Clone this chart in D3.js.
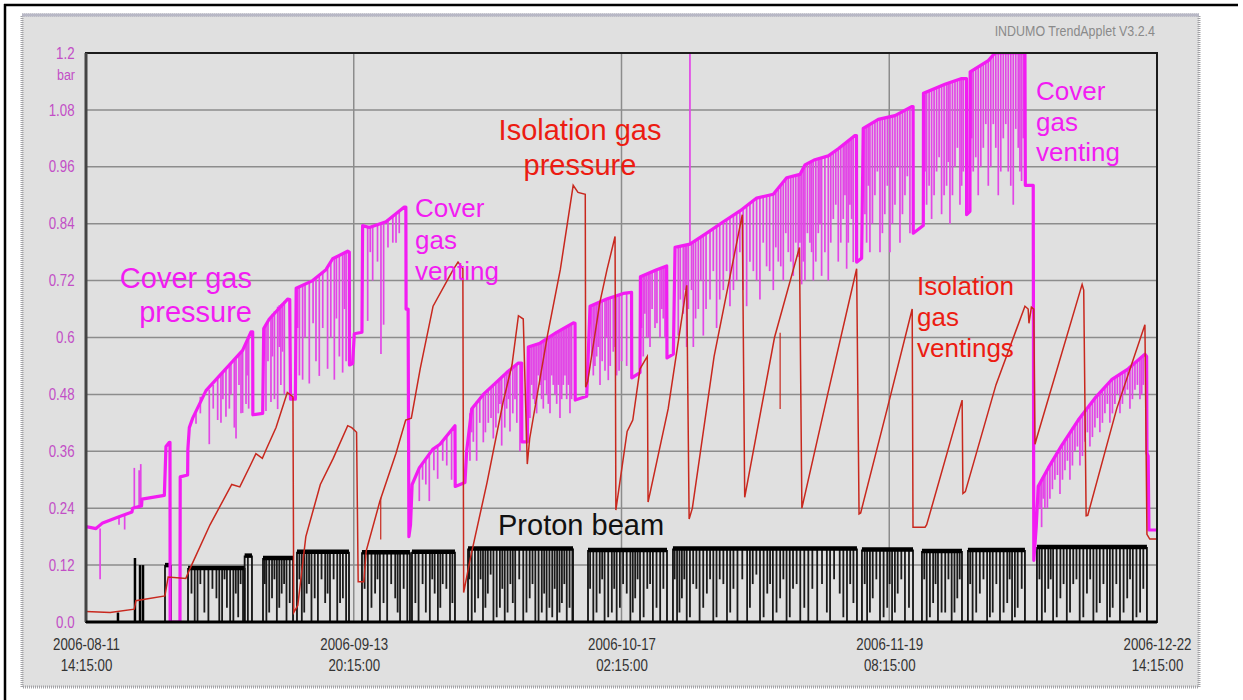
<!DOCTYPE html>
<html>
<head>
<meta charset="utf-8">
<title>Cover gas / isolation gas / proton beam trend</title>
<script src="https://d3js.org/d3.v7.min.js"></script>
<style>
  body { margin: 0; background: #fff; }
  text { font-family: "Liberation Sans", Arial, Helvetica, sans-serif; }
</style>
</head>
<body>
<svg id="chart" width="1243" height="700"></svg>
<script>
// ---- data (x = days since 2006-08-11 14:15 UTC, y = bar) ----
var startTime = Date.UTC(2006, 7, 11, 14, 15, 0);
var spanDays = 133;
var xTickDays = [0, 33.25, 66.5, 99.75, 133];
var yTicks = [0, 0.12, 0.24, 0.36, 0.48, 0.6, 0.72, 0.84, 0.96, 1.08, 1.2];
var yTickLabels = ["0.0", "0.12", "0.24", "0.36", "0.48", "0.6", "0.72", "0.84", "0.96", "1.08", "1.2"];

// cover gas pressure (magenta) - upper trace
var coverGas = [
  [0,0.201],[1.24,0.197],[2.07,0.209],[3.93,0.221],[5.71,0.232],[5.79,0.24],[6.9,0.245],[6.95,0.259],[9.73,0.267],
  [9.93,0.37],[10.35,0.379],[10.43,0.379],[10.45,0],[11.67,0],[11.7,0.306],[12.62,0.31],[12.65,0.364],[12.83,0.41],
  [13.25,0.43],[14.9,0.488],[16.56,0.519],[18.21,0.55],[19.45,0.573],[20.49,0.612],[20.7,0.612],[20.72,0.437],
  [21.94,0.44],[22.07,0.619],[22.76,0.639],[25.04,0.681],[25.3,0.68],[25.4,0.47],[26.0,0.47],[26.1,0.704],
  [28.15,0.72],[29.8,0.743],[30.63,0.766],[32.49,0.782],[32.7,0.78],[32.72,0.542],[33.11,0.545],[33.32,0.608],
  [34.27,0.611],[34.35,0.836],[35.18,0.832],[37.25,0.844],[39.53,0.875],[39.72,0.875],[39.75,0.66],[40.0,0.66],
  [40.1,0.18],[40.3,0.205],[40.5,0.29],[41.39,0.325],[43.05,0.364],[43.96,0.375],[45.82,0.414],[45.85,0.286],
  [47.06,0.294],[47.27,0.36],[47.89,0.449],[49.34,0.48],[52.24,0.526],[53.69,0.546],[54.1,0.546],[54.12,0.38],
  [54.8,0.38],[54.93,0.58],[56.38,0.588],[58.45,0.611],[60.52,0.631],[60.73,0.63],[60.75,0.468],[62.18,0.476],
  [62.59,0.666],[64.66,0.681],[66.73,0.693],[67.75,0.695],[67.77,0.515],[68.8,0.526],[68.85,0.728],[70.87,0.743],
  [72.11,0.751],[72.15,0.557],[72.94,0.565],[73.15,0.79],[75.0,0.797],[77.08,0.82],[79.15,0.844],[81.21,0.867],
  [83.28,0.894],[85.35,0.902],[87.01,0.937],[88.66,0.944],[89.28,0.964],[90.52,0.975],[92.18,0.983],[93.42,0.998],
  [95.49,1.026],[95.68,1.026],[95.7,0.759],[96.32,0.767],[96.52,1.041],[98.39,1.06],[100.46,1.068],[102.53,1.087],
  [102.71,1.087],[102.73,0.82],[103.98,0.836],[104.0,1.115],[106.67,1.134],[108.74,1.146],[109.34,1.146],
  [109.36,0.859],[109.77,0.866],[109.8,1.16],[112.05,1.184],[112.87,1.2],[116.6,1.2],[116.65,0.921],[117.63,0.921],
  [117.7,0.13],[118.0,0.2],[118.25,0.286],[119.5,0.325],[121.15,0.372],[123.22,0.426],[125.29,0.472],[127.36,0.511],
  [129.43,0.534],[131.5,0.565],[131.71,0.56],[131.75,0.356],[131.9,0.35],[132.0,0.194],[133,0.194]
];

// short excursions of the cover gas trace: [day, from, to]
var coverGasSpikes = [
  [1.75,0.197,0.09],[4.1,0.222,0.205],[4.8,0.225,0.195],[6.0,0.24,0.325],[6.6,0.245,0.32],[6.8,0.245,0.333],
  [13.66,0.44,0.418],[15.31,0.49,0.375],[16.35,0.515,0.426],[16.76,0.522,0.42],[17.38,0.535,0.433],[17.8,0.54,0.45],
  [18.42,0.553,0.41],[18.63,0.556,0.387],[19.25,0.57,0.44],[19.45,0.573,0.441],[19.87,0.59,0.46],[20.2,0.6,0.45],
  [14.2,0.475,0.44],[15.8,0.5,0.45],[17.0,0.527,0.47],[18.0,0.545,0.48],[19.0,0.565,0.5],[20.0,0.595,0.52],
  [22.35,0.625,0.445],[22.97,0.645,0.464],[23.4,0.655,0.47],[23.8,0.665,0.449],[24.2,0.67,0.5],[24.63,0.677,0.48],
  [22.6,0.632,0.55],[23.15,0.65,0.56],[24.0,0.668,0.58],[24.4,0.673,0.57],
  [26.5,0.707,0.52],[26.9,0.71,0.511],[27.73,0.716,0.503],[28.56,0.725,0.55],[28.97,0.73,0.519],[30.0,0.746,0.534],
  [30.4,0.76,0.6],[30.84,0.767,0.511],[31.46,0.773,0.56],[31.87,0.777,0.526],[32.3,0.78,0.55],
  [26.3,0.705,0.62],[27.2,0.712,0.6],[28.2,0.72,0.63],[29.4,0.737,0.62],[31.1,0.77,0.64],[32.1,0.779,0.66],
  [34.98,0.833,0.635],[35.6,0.835,0.72],[36.63,0.84,0.565],[36.96,0.842,0.627],[38.1,0.855,0.8],[38.9,0.865,0.82],
  [35.3,0.834,0.78],[36.2,0.838,0.76],[37.5,0.847,0.79],[38.5,0.86,0.8],
  [41.39,0.325,0.255],[42.63,0.355,0.255],[43.67,0.37,0.302],[44.8,0.39,0.33],[45.4,0.405,0.3],
  [41.8,0.335,0.3],[42.2,0.345,0.29],[43.2,0.365,0.32],[44.3,0.383,0.34],
  [47.68,0.44,0.34],[48.51,0.465,0.34],[49.34,0.48,0.379],[49.96,0.49,0.42],[50.58,0.5,0.387],[51.2,0.51,0.44],
  [51.62,0.517,0.372],[52.24,0.526,0.45],[52.65,0.532,0.402],[53.27,0.54,0.47],[53.89,0.546,0.36],
  [47.9,0.449,0.4],[48.1,0.455,0.38],[48.9,0.47,0.42],[49.6,0.485,0.4],[50.3,0.495,0.43],[50.9,0.505,0.41],
  [51.4,0.513,0.46],[52.0,0.522,0.41],[52.45,0.529,0.47],[53.0,0.537,0.44],[53.5,0.543,0.42],
  [55.13,0.58,0.43],[55.55,0.583,0.47],[55.96,0.586,0.44],[56.38,0.588,0.5],[56.79,0.593,0.45],[57.2,0.598,0.48],
  [57.62,0.603,0.44],[58.03,0.607,0.5],[58.45,0.611,0.46],[58.86,0.615,0.43],[59.27,0.62,0.5],[59.69,0.623,0.47],
  [60.1,0.627,0.44],
  [55.34,0.582,0.5],[55.75,0.585,0.46],[56.17,0.587,0.52],[56.58,0.59,0.47],[57.0,0.596,0.51],[57.41,0.6,0.46],
  [57.83,0.605,0.52],[58.24,0.609,0.48],[58.65,0.613,0.5],[59.07,0.618,0.47],[59.48,0.621,0.52],[59.9,0.625,0.5],
  [60.3,0.629,0.47],
  [63.0,0.669,0.52],[63.41,0.672,0.56],[63.83,0.675,0.5],[64.45,0.68,0.53],[64.86,0.682,0.51],[65.48,0.686,0.57],
  [65.9,0.689,0.52],[66.52,0.692,0.55],[67.14,0.694,0.54],
  [62.8,0.667,0.56],[63.2,0.67,0.54],[63.6,0.674,0.58],[64.1,0.677,0.55],[64.65,0.681,0.6],[65.1,0.684,0.54],
  [65.7,0.688,0.58],[66.2,0.69,0.53],
  [69.2,0.73,0.56],[69.62,0.734,0.6],[70.04,0.737,0.58],[70.66,0.742,0.62],[71.28,0.746,0.6],[71.69,0.749,0.64],
  [69.0,0.729,0.62],[69.4,0.732,0.65],[69.85,0.736,0.6],[70.3,0.739,0.66],[70.9,0.744,0.63],[71.5,0.748,0.66],
  [71.9,0.75,0.6],
  [73.55,0.792,0.604],[74.17,0.794,0.65],[74.59,0.796,0.58],[75.0,0.797,1.2],[75.42,0.8,0.58],[76.04,0.81,0.66],
  [76.66,0.816,0.604],[77.49,0.825,0.68],[78.31,0.834,0.62],[79.14,0.844,0.7],[79.97,0.853,0.666],[80.8,0.862,0.72],
  [82.04,0.878,0.666],[82.87,0.888,0.74],[83.69,0.896,0.68],[84.52,0.899,0.75],[85.35,0.902,0.7],[85.97,0.915,0.76],
  [86.59,0.928,0.72],[87.21,0.938,0.78],[87.83,0.94,0.73],[88.45,0.943,0.77],
  [73.8,0.793,0.68],[74.4,0.795,0.7],[74.8,0.796,0.66],[75.2,0.798,0.7],[75.7,0.805,0.64],[76.35,0.813,0.72],
  [77.0,0.82,0.66],[77.9,0.83,0.74],[78.7,0.839,0.68],[79.55,0.848,0.74],[80.4,0.858,0.7],[81.2,0.867,0.78],
  [81.6,0.872,0.7],[82.45,0.883,0.76],[83.28,0.894,0.72],[84.1,0.897,0.8],[84.9,0.9,0.74],[85.66,0.909,0.79],
  [86.28,0.921,0.75],[86.9,0.933,0.82],[87.52,0.939,0.76],[88.14,0.942,0.8],
  [88.87,0.95,0.712],[89.28,0.964,0.72],[89.9,0.97,0.8],[90.32,0.973,0.72],[90.94,0.978,0.82],[91.35,0.98,0.73],
  [92.18,0.983,0.72],[92.8,0.99,0.85],[93.42,0.998,0.76],[94.04,1.006,0.85],[94.46,1.012,0.745],[94.87,1.018,0.88],
  [95.28,1.023,0.759],
  [88.66,0.944,0.8],[89.08,0.955,0.76],[89.59,0.967,0.82],[90.11,0.972,0.78],[90.63,0.975,0.76],[91.15,0.979,0.84],
  [91.76,0.981,0.78],[92.49,0.987,0.8],[93.11,0.994,0.88],[93.73,1.002,0.8],[94.25,1.009,0.9],[94.66,1.015,0.8],
  [95.08,1.02,0.85],
  [96.94,1.045,0.8],[97.35,1.05,0.78],[97.97,1.056,0.9],[98.6,1.061,0.78],[99.2,1.063,0.86],[99.84,1.066,0.78],
  [100.46,1.068,0.88],[101.08,1.074,0.8],[101.7,1.08,0.9],[102.32,1.085,0.82],
  [96.73,1.043,0.86],[97.15,1.047,0.92],[97.66,1.053,0.84],[98.28,1.058,0.95],[98.9,1.062,0.82],[99.52,1.064,0.92],
  [100.15,1.067,0.84],[100.77,1.071,0.96],[101.39,1.077,0.86],[102.0,1.082,0.94],
  [104.39,1.118,0.88],[105.01,1.122,0.85],[105.63,1.126,0.95],[106.25,1.13,0.86],[106.87,1.135,0.92],
  [107.29,1.138,0.84],[107.91,1.141,0.96],[108.53,1.145,0.88],[108.94,1.146,0.95],
  [104.2,1.116,0.95],[104.7,1.12,0.92],[105.32,1.124,0.9],[105.94,1.128,0.98],[106.56,1.132,0.9],[107.08,1.136,0.97],
  [107.6,1.14,0.9],[108.22,1.143,1.0],[108.74,1.146,0.92],
  [110.18,1.165,0.95],[110.8,1.17,0.9],[111.43,1.178,1.0],[112.05,1.184,0.92],[112.67,1.195,1.05],[113.29,1.2,0.9],
  [113.91,1.2,1.02],[114.53,1.2,0.95],[115.15,1.2,0.88],[115.77,1.2,1.0],[116.18,1.2,0.93],
  [110.0,1.162,1.02],[110.49,1.167,0.98],[111.12,1.174,0.96],[111.74,1.181,1.05],[112.36,1.19,0.96],[112.98,1.2,1.0],
  [113.6,1.2,0.95],[114.22,1.2,1.05],[114.84,1.2,0.92],[115.46,1.2,1.04],[115.98,1.2,0.95],[116.4,1.2,1.02],
  [118.67,0.295,0.2],[119.08,0.31,0.24],[119.7,0.33,0.26],[120.32,0.35,0.3],[120.95,0.365,0.27],[121.57,0.38,0.32],
  [122.19,0.4,0.3],[122.81,0.418,0.36],[123.43,0.43,0.33],[124.05,0.445,0.38],[124.67,0.458,0.37],[125.29,0.472,0.41],
  [125.91,0.484,0.4],[126.53,0.495,0.44],[127.15,0.506,0.42],[127.77,0.516,0.46],[128.4,0.523,0.44],[129.02,0.53,0.48],
  [129.64,0.537,0.45],[130.26,0.548,0.49],[130.88,0.556,0.47],[131.29,0.562,0.5],
  [118.47,0.29,0.24],[118.88,0.302,0.26],[119.39,0.32,0.24],[120.01,0.34,0.28],[120.64,0.358,0.31],[121.26,0.373,0.3],
  [121.88,0.39,0.34],[122.5,0.41,0.33],[123.12,0.424,0.37],[123.74,0.438,0.35],[124.36,0.452,0.4],[124.98,0.465,0.39],
  [125.6,0.478,0.43],[126.22,0.49,0.42],[126.84,0.5,0.46],[127.46,0.511,0.44],[128.08,0.52,0.48],[128.71,0.527,0.46],
  [129.33,0.534,0.49],[129.95,0.543,0.47],[130.57,0.552,0.5],[131.1,0.56,0.48]
];

// isolation gas pressure (red) - sawtooth
var isolationGas = [
  [0,0.022],[3.0,0.02],[6.0,0.027],[6.2,0.045],[9.8,0.055],[10.2,0.095],[12.4,0.092],[12.9,0.112],[15.4,0.205],
  [18.1,0.29],[19.1,0.285],[20.4,0.33],[21.1,0.355],[21.9,0.345],[22.4,0.365],[23.6,0.41],[25.0,0.484],[25.7,0.475],
  [25.8,0.02],[26.3,0.035],[27.3,0.18],[29.1,0.29],[30.7,0.345],[32.5,0.414],[33.0,0.41],[33.6,0.40],[33.8,0.085],
  [34.5,0.085],[34.8,0.15],[36.5,0.255],[38.5,0.356],[39.7,0.426],[40.4,0.43],[41.5,0.534],[43.1,0.666],[45.6,0.743],
  [46.2,0.759],[46.8,0.745],[46.9,0.062],[47.7,0.132],[49.8,0.294],[51.8,0.464],[52.9,0.542],[53.7,0.646],[54.3,0.639],
  [54.8,0.333],[55.1,0.387],[57.3,0.604],[58.9,0.743],[60.5,0.921],[61.1,0.906],[62.0,0.902],[62.05,0.495],[62.3,0.507],
  [63.8,0.673],[64.7,0.743],[65.7,0.813],[65.8,0.236],[67.2,0.402],[67.9,0.426],[68.8,0.534],[69.7,0.56],[69.8,0.253],
  [72.3,0.45],[74.6,0.71],[74.9,0.217],[75.3,0.24],[78.0,0.56],[81.5,0.859],[81.8,0.263],[85.5,0.6],[88.6,0.79],
  [88.9,0.24],[92.1,0.48],[95.7,0.745],[96.0,0.228],[96.2,0.23],[99.5,0.45],[102.6,0.66],[102.7,0.2],[104.2,0.2],
  [104.4,0.205],[108.8,0.468],[108.9,0.271],[109.2,0.275],[113.0,0.5],[116.6,0.666],[117.0,0.66],[117.1,0.63],
  [117.4,0.664],[117.7,0.66],[117.85,0.375],[118.1,0.39],[123.7,0.712],[123.9,0.7],[124.2,0.224],[124.4,0.225],
  [128.0,0.45],[131.5,0.627],[131.75,0.185],[132.1,0.175],[133,0.175]
];
var isolationGasSpikes = [[36.6,0.262,0.174],[86.2,0.61,0.449]];

// proton beam (black): running periods [from, to, level], single pulses [day, level], interruptions [day, low]
var beamPeriods = [
  [9.81,10.56,0.12],[12.67,19.7,0.114],[19.7,20.61,0.14],[21.98,25.71,0.135],[26.2,32.66,0.148],[34.27,40.23,0.147],
  [40.48,45.82,0.148],[47.44,60.48,0.155],[62.34,72.15,0.152],[72.89,95.74,0.155],[96.36,102.7,0.153],
  [103.81,108.78,0.15],[109.52,116.6,0.152],[118.09,131.75,0.158]
];
var beamPulses = [[3.97,0.02],[6.08,0.135],[6.71,0.12],[7.08,0.12]];
var beamDrops = [
  [13.5,0],[14.2,0.08],[15.2,0],[16.2,0.05],[16.9,0],[17.5,0.03],[18.3,0],[18.9,0.01],[19.5,0],
  [13.1,0.06],[13.85,0],[14.7,0.02],[15.7,0.07],[16.55,0],[17.2,0.09],[17.9,0],[18.6,0.06],[19.2,0.08],[20.1,0],
  [22.4,0],[23.1,0.05],[23.7,0],[24.3,0.06],[24.9,0],
  [22.2,0.08],[22.75,0.02],[23.4,0.09],[24.0,0.03],[24.6,0.08],[25.3,0.04],
  [26.8,0],[27.4,0.06],[28.0,0],[28.8,0],[29.7,0.04],[30.3,0],[31.2,0],[31.9,0.05],
  [26.5,0.09],[27.1,0.02],[27.7,0.08],[28.4,0.05],[29.25,0.09],[30.0,0.06],[30.75,0.09],[31.55,0.04],[32.3,0],
  [35.0,0],[35.9,0.06],[36.5,0],[37.4,0],[38.4,0.05],[39.0,0],[39.9,0],
  [34.6,0.07],[35.45,0.03],[36.2,0.09],[36.95,0.04],[37.9,0.08],[38.7,0.02],[39.45,0.07],
  [40.9,0.04],[42.7,0],[43.3,0.06],[43.7,0],[44.3,0.08],[45.2,0],
  [41.3,0],[41.8,0.08],[42.2,0.02],[43.0,0.09],[44.0,0.03],[44.75,0.07],[45.5,0.04],
  [47.9,0],[48.7,0.05],[49.3,0],[49.9,0.06],[50.6,0],[51.4,0.03],[52.0,0],[52.7,0.08],[53.3,0],[54.3,0],[55.1,0.05],
  [55.8,0],[56.6,0.02],[57.2,0],[57.9,0.01],[58.5,0],[59.1,0.04],[59.7,0],[60.4,0],
  [47.6,0.09],[48.3,0.02],[49.0,0.09],[49.6,0.03],[50.25,0.1],[51.0,0.01],[51.7,0.07],[52.35,0.02],[53.0,0.04],
  [53.8,0.09],[54.7,0.02],[55.45,0.08],[56.2,0],[56.9,0.06],[57.55,0.03],[58.2,0.07],[58.8,0.02],[59.4,0.08],[60.05,0.03],
  [63.0,0],[63.8,0.06],[64.4,0],[65.3,0.02],[65.9,0],[66.7,0.08],[67.6,0],[68.2,0.05],[68.8,0],[69.7,0.07],[70.4,0],[71.3,0],
  [62.6,0.07],[63.4,0.02],[64.1,0.09],[64.85,0.01],[65.6,0.07],[66.3,0.03],[67.15,0.06],[67.9,0.02],[68.5,0.09],
  [69.25,0.01],[70.05,0.08],[70.85,0.03],[71.7,0.07],
  [73.4,0],[74.0,0.05],[74.6,0],[75.4,0.08],[76.2,0],[77.1,0.06],[77.9,0],[78.7,0.09],[79.6,0],[80.4,0.07],[82.1,0],
  [82.8,0.08],[83.7,0],[84.6,0.06],[85.3,0],[86.2,0.05],[87.0,0],[87.8,0.07],[88.7,0],[89.7,0],[92.4,0],[93.6,0.06],
  [94.5,0],[95.3,0.04],
  [73.1,0.09],[73.7,0.02],[74.3,0.09],[75.0,0.01],[75.8,0.07],[76.65,0.03],[77.5,0.09],[78.3,0.01],[79.15,0.08],
  [80.0,0.02],[80.9,0],[81.5,0.09],[82.45,0.03],[83.25,0.1],[84.15,0.01],[84.95,0.08],[85.75,0.02],[86.6,0.09],
  [87.4,0.01],[88.25,0.08],[89.2,0.03],[90.2,0.07],[90.8,0],[91.4,0.08],[92.0,0.02],[92.9,0.09],[94.05,0.01],[94.9,0.08],
  [97.0,0],[97.7,0.05],[98.6,0],[99.5,0.03],[100.1,0],[100.8,0.06],[101.7,0],
  [96.7,0.08],[97.35,0.02],[98.15,0.09],[99.05,0.01],[99.8,0.08],[100.45,0.02],[101.25,0.09],[102.2,0.03],
  [104.4,0],[105.2,0.04],[105.8,0],[106.7,0.02],[107.5,0],[108.2,0.05],
  [104.1,0.09],[104.8,0.01],[105.5,0.08],[106.25,0.02],[107.1,0.09],[107.85,0.02],[108.5,0.09],
  [110.1,0],[111.0,0.06],[111.9,0],[112.6,0.02],[113.5,0],[114.4,0.04],[115.0,0],[115.7,0.03],
  [109.8,0.08],[110.55,0.02],[111.45,0.09],[112.25,0.01],[113.05,0.08],[113.95,0.02],[114.7,0.09],[115.35,0.01],[116.2,0.07],
  [118.7,0],[119.5,0.07],[120.1,0],[121.0,0.05],[121.8,0],[122.6,0.08],[123.4,0],[124.3,0.06],[125.1,0],[125.9,0.04],
  [126.8,0],[127.5,0.03],[128.4,0],[129.3,0.05],[130.0,0],[130.9,0.02],
  [118.4,0.09],[119.1,0.02],[119.8,0.09],[120.55,0.01],[121.4,0.08],[122.2,0.02],[123.0,0.09],[123.85,0.01],[124.7,0.09],
  [125.5,0.02],[126.35,0.08],[127.15,0.01],[127.95,0.08],[128.85,0.02],[129.65,0.09],[130.45,0.01],[131.3,0.07]
];

// ---- layout ----
var plot = { left: 86, right: 1157, top: 53, bottom: 622 };
var magenta = "#f21cf2", red = "#c8281e";
var narrow = "scale(0.83,1)";

var svg = d3.select("#chart");
var toDate = function(d) { return new Date(startTime + d * 864e5); };

var x = d3.scaleUtc()
  .domain([toDate(0), toDate(spanDays)])
  .range([plot.left, plot.right]);
var y = d3.scaleLinear()
  .domain([0, 1.2])
  .range([plot.bottom, plot.top]);

// page frame
svg.append("line").attr("x1", 4).attr("y1", 5).attr("x2", 1238).attr("y2", 5)
  .attr("stroke", "#000").attr("stroke-width", 2.5);
svg.append("line").attr("x1", 5).attr("y1", 4).attr("x2", 5).attr("y2", 700)
  .attr("stroke", "#000").attr("stroke-width", 2.5);

// applet panel
svg.append("rect").attr("x", 22).attr("y", 15).attr("width", 1177).attr("height", 672)
  .attr("fill", "#e0e0e0").attr("stroke", "#a2a2a6").attr("stroke-width", 3)
  .attr("stroke-dasharray", "1 1");
svg.append("line").attr("x1", 22).attr("y1", 15).attr("x2", 1199).attr("y2", 15)
  .attr("stroke", "#b8b8c6").attr("stroke-width", 3);

svg.append("text").attr("transform", "translate(1155,36) " + narrow).attr("text-anchor", "end")
  .attr("font-size", 15).attr("fill", "#8a8a8a").text("INDUMO TrendApplet V3.2.4");

// grid
var grid = svg.append("g");
grid.selectAll(".hg").data(yTicks.slice(1, -1)).enter().append("line")
  .attr("x1", plot.left).attr("x2", plot.right)
  .attr("y1", function(d) { return y(d); }).attr("y2", function(d) { return y(d); })
  .attr("stroke", "#8c8c8c").attr("stroke-width", 1.5);
grid.selectAll(".vg").data(xTickDays.slice(1, -1)).enter().append("line")
  .attr("y1", plot.top).attr("y2", plot.bottom)
  .attr("x1", function(d) { return x(toDate(d)); }).attr("x2", function(d) { return x(toDate(d)); })
  .attr("stroke", "#8c8c8c").attr("stroke-width", 1.5);

// y axis
var yAxis = svg.append("g")
  .attr("transform", "translate(" + (plot.left - 9) + ",0)")
  .call(d3.axisLeft(y).tickValues(yTicks).tickSize(0)
    .tickFormat(function(d, i) { return yTickLabels[i]; }));
yAxis.select(".domain").remove();
yAxis.selectAll("text").attr("font-size", 16).attr("fill", "#c24ec6").attr("transform", narrow);
svg.append("text").attr("transform", "translate(" + (plot.left - 11) + "," + (y(1.2) + 27) + ") " + narrow)
  .attr("text-anchor", "end").attr("font-size", 15).attr("fill", "#c24ec6").text("bar");

// x axis
var fmtDate = d3.utcFormat("%Y-%m-%d"), fmtTime = d3.utcFormat("%H:%M:%S");
var xAxis = svg.append("g")
  .attr("transform", "translate(0," + plot.bottom + ")")
  .call(d3.axisBottom(x).tickValues(xTickDays.map(toDate)).tickSize(0).tickFormat(""));
xAxis.select(".domain").remove();
xAxis.selectAll(".tick").each(function(d) {
  var t = d3.select(this).select("text")
    .attr("font-size", 16).attr("fill", "#333").attr("y", 28).attr("dy", 0).attr("transform", narrow);
  t.append("tspan").attr("x", 0).text(fmtDate(d));
  t.append("tspan").attr("x", 0).attr("dy", 21).text(fmtTime(d));
});

// clip for the traces
svg.append("clipPath").attr("id", "plotclip").append("rect")
  .attr("x", plot.left).attr("y", plot.top).attr("width", plot.right - plot.left).attr("height", plot.bottom - plot.top);
var traces = svg.append("g").attr("clip-path", "url(#plotclip)");

var line = d3.line()
  .x(function(d) { return x(toDate(d[0])); })
  .y(function(d) { return y(d[1]); });

// proton beam
traces.append("g").selectAll("line").data(beamDrops).enter().append("line")
  .attr("x1", function(d) { return x(toDate(d[0])); }).attr("x2", function(d) { return x(toDate(d[0])); })
  .attr("y1", function(d) {
    var p = beamPeriods.find(function(s) { return d[0] >= s[0] && d[0] <= s[1]; });
    return y(p ? p[2] : 0.15);
  })
  .attr("y2", function(d) { return y(d[1]); })
  .attr("stroke", "#1a1a1a").attr("stroke-width", 1.8);
var periods = traces.append("g").selectAll("g").data(beamPeriods).enter().append("g");
periods.append("path")
  .attr("d", function(p) { return line([[p[0], 0], [p[0], p[2]]]) + line([[p[1], p[2]], [p[1], 0]]); })
  .attr("fill", "none").attr("stroke", "#111").attr("stroke-width", 1.8);
periods.append("path")
  .attr("d", function(p) { return line([[p[0], p[2]], [p[1], p[2]]]); })
  .attr("fill", "none").attr("stroke", "#000").attr("stroke-width", 4.5);
traces.append("g").selectAll("line").data(beamPulses).enter().append("line")
  .attr("x1", function(d) { return x(toDate(d[0])); }).attr("x2", function(d) { return x(toDate(d[0])); })
  .attr("y1", y(0)).attr("y2", function(d) { return y(d[1]); })
  .attr("stroke", "#000").attr("stroke-width", 2.5);

// cover gas
traces.append("g").selectAll("line").data(coverGasSpikes).enter().append("line")
  .attr("x1", function(d) { return x(toDate(d[0])); }).attr("x2", function(d) { return x(toDate(d[0])); })
  .attr("y1", function(d) { return y(d[1]); }).attr("y2", function(d) { return y(d[2]); })
  .attr("stroke", "#e246e6").attr("stroke-width", 1.7);
traces.append("path").datum(coverGas).attr("d", line)
  .attr("fill", "none").attr("stroke", magenta).attr("stroke-width", 3.2).attr("stroke-linejoin", "round");

// isolation gas
traces.append("g").selectAll("line").data(isolationGasSpikes).enter().append("line")
  .attr("x1", function(d) { return x(toDate(d[0])); }).attr("x2", function(d) { return x(toDate(d[0])); })
  .attr("y1", function(d) { return y(d[1]); }).attr("y2", function(d) { return y(d[2]); })
  .attr("stroke", red).attr("stroke-width", 1.2);
traces.append("path").datum(isolationGas).attr("d", line)
  .attr("fill", "none").attr("stroke", red).attr("stroke-width", 1.5);

// plot frame
svg.append("rect").attr("x", plot.left).attr("y", plot.top)
  .attr("width", plot.right - plot.left).attr("height", plot.bottom - plot.top)
  .attr("fill", "none").attr("stroke", "#1c1c1c").attr("stroke-width", 2);
svg.append("line").attr("x1", plot.left).attr("x2", plot.left).attr("y1", plot.top).attr("y2", plot.bottom)
  .attr("stroke", "#444").attr("stroke-width", 3);
svg.append("line").attr("x1", plot.left).attr("x2", plot.right).attr("y1", plot.bottom).attr("y2", plot.bottom)
  .attr("stroke", "#000").attr("stroke-width", 3);

// annotations
function note(lines, px, py, anchor, size, color, gap) {
  var t = svg.append("text").attr("x", px).attr("y", py).attr("text-anchor", anchor)
    .attr("font-size", size).attr("fill", color);
  lines.forEach(function(s, i) {
    t.append("tspan").attr("x", px).attr("dy", i ? gap : 0).text(s);
  });
}
note(["Cover gas", "pressure"], 252, 288, "end", 29, magenta, 34);
note(["Cover", "gas", "venting"], 415, 217, "start", 26, magenta, 31.5);
note(["Isolation gas", "pressure"], 580, 140, "middle", 29, "#ec1c12", 35);
note(["Cover", "gas", "venting"], 1036, 100, "start", 26, magenta, 30.5);
note(["Isolation", "gas", "ventings"], 917, 295, "start", 26, "#ec1c12", 31);
note(["Proton beam"], 498, 535, "start", 29, "#111", 0);
</script>
</body>
</html>
